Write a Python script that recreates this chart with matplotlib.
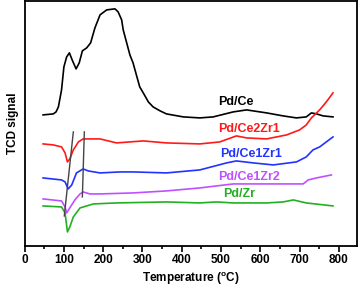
import matplotlib
matplotlib.use("Agg")
import matplotlib.pyplot as plt
from matplotlib.ticker import MultipleLocator

plt.rcParams['font.family'] = ['Liberation Sans', 'DejaVu Sans']
plt.rcParams['mathtext.fontset'] = 'custom'
plt.rcParams['mathtext.bf'] = 'Liberation Sans:bold'
plt.rcParams['mathtext.rm'] = 'Liberation Sans'

# TCD signal traces (arbitrary units)
t_ce = [47, 73, 80, 86, 94, 100, 107, 114, 121, 131, 139, 147, 158, 168, 179, 192, 209, 230, 238,
        247, 251, 268, 276, 293, 302, 315, 327, 345, 361, 404, 446, 480, 531, 565, 616, 658, 692,
        717, 730, 743, 760, 785]
y_ce = [131, 132, 134, 139, 156, 179, 189, 193, 186, 177, 183, 195, 198, 203, 218, 231, 236, 237, 234,
        226, 216, 191, 183, 159, 153, 144, 139, 135, 132, 129, 128, 129, 134, 136, 133, 130, 128,
        129, 133, 132, 130, 129]

t_ce2zr1 = [47, 73, 94, 103, 109, 115, 124, 137, 149, 192, 234, 302, 361, 446, 497, 539, 565,
            616, 667, 700, 717, 730, 751, 768, 785]
y_ce2zr1 = [102, 101, 99, 93, 84, 87, 96, 104, 107, 107, 103, 105, 103, 102, 104, 110, 108,
            107, 111, 116, 121, 128, 136, 144, 153]

t_ce1zr1 = [47, 94, 103, 111, 120, 132, 149, 162, 192, 243, 276, 361, 446, 514, 539, 582, 633,
            692, 717, 734, 751, 785]
y_ce1zr1 = [68, 66, 64, 57, 61, 73, 77, 75, 73, 74, 74, 73, 76, 83, 85, 83, 81,
            84, 89, 96, 99, 109]

t_ce1zr2 = [47, 94, 103, 107, 115, 128, 141, 149, 166, 192, 276, 361, 446, 531, 616, 709, 722, 743, 781]
y_ce1zr2 = [47, 45, 39, 33, 38, 46, 52, 54, 52, 52, 53, 55, 58, 62, 62, 62, 66, 68, 71]

t_zr = [47, 94, 103, 109, 115, 124, 141, 175, 234, 361, 446, 488, 531, 616, 658, 684, 717, 785]
y_zr = [40, 39, 33, 14, 19, 29, 38, 42, 43, 44, 43, 44, 43, 43, 44, 46, 43, 40]

# guide lines through the peaks
guide1_t = [101, 124]
guide1_y = [30, 114]
guide2_t = [147, 152]
guide2_y = [49, 114]

labels = ['Pd/Ce', 'Pd/Ce2Zr1', 'Pd/Ce1Zr1', 'Pd/Ce1Zr2', 'Pd/Zr']
label_t = [493, 493, 497, 493, 505]
label_y = [144, 117, 92, 69, 52]
colors = ['black', '#ff1a1a', '#2233ff', '#c050ff', '#22b022']

fig = plt.figure(figsize=(3.62, 2.88), dpi=100)
ax = fig.add_axes([0.068, 0.146, 0.917, 0.851])

series = [(t_ce, y_ce), (t_ce2zr1, y_ce2zr1), (t_ce1zr1, y_ce1zr1), (t_ce1zr2, y_ce1zr2), (t_zr, y_zr)]
for (t, y), c in zip(series, colors):
    ax.plot(t, y, color=c, lw=1.2)

ax.plot(guide1_t, guide1_y, color='#444444', lw=1.0)
ax.plot(guide2_t, guide2_y, color='#444444', lw=1.0)

for lab, tx, ty, c in zip(labels, label_t, label_y, colors):
    ax.text(tx, ty, lab, color=c, fontsize=9, fontweight='bold', va='center', ha='left')

ax.set_xlim(0, 845)
ax.set_ylim(0, 245)
ax.xaxis.set_major_locator(MultipleLocator(100))
ax.xaxis.set_minor_locator(MultipleLocator(50))
ax.set_yticks([])
ax.tick_params(axis='x', which='major', length=4, width=1.2, labelsize=8.5, pad=2)
ax.tick_params(axis='x', which='minor', length=2.5, width=1.2)
for lab in ax.get_xticklabels():
    lab.set_fontweight('bold')
for s in ax.spines.values():
    s.set_linewidth(1.3)

ax.set_xlabel(r'Temperature ($^{\mathbf{o}}$C)', fontsize=8.5, fontweight='bold', labelpad=3)
ax.set_ylabel('TCD signal', fontsize=8.5, fontweight='bold', labelpad=4)

fig.savefig('out.png', dpi=100)
